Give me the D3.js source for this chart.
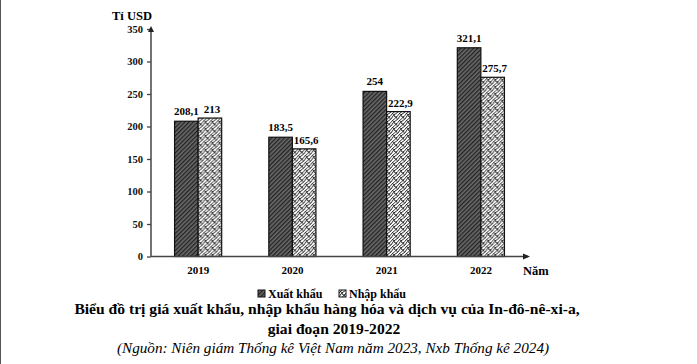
<!DOCTYPE html>
<html>
<head>
<meta charset="utf-8">
<script src="https://cdn.jsdelivr.net/npm/d3@7"></script>
<style>
  body { margin: 0; background: #fff; }
  svg text { font-family: "Liberation Serif", "Times New Roman", serif; }
</style>
</head>
<body>
<script>
//Data
var years = ["2019", "2020", "2021", "2022"];
var exportValues = [208.1, 183.5, 254, 321.1];
var importValues = [213, 165.6, 222.9, 275.7];
var exportLabels = ["208,1", "183,5", "254", "321,1"];
var importLabels = ["213", "165,6", "222,9", "275,7"];
var yTicks = [0, 50, 100, 150, 200, 250, 300, 350];
var seriesNames = ["Xuất khẩu", "Nhập khẩu"];

var w = 697, h = 364;
var x0 = 151, x1 = 528, yTop = 29, yBottom = 256.5;
var serif = "Liberation Serif";

var svg = d3.select("body").append("svg")
  .attr("width", w).attr("height", h)
  .attr("font-family", serif);

//Patterns
var defs = svg.append("defs");
var pExp = defs.append("pattern").attr("id", "pExp")
  .attr("patternUnits", "userSpaceOnUse").attr("width", 3).attr("height", 3)
  .attr("patternTransform", "rotate(45)");
pExp.append("rect").attr("width", 3).attr("height", 3).attr("fill", "#6a6a6a");
pExp.append("rect").attr("width", 1.3).attr("height", 3).attr("fill", "#222");

var pImp = defs.append("pattern").attr("id", "pImp")
  .attr("patternUnits", "userSpaceOnUse").attr("width", 7).attr("height", 7);
pImp.append("rect").attr("width", 7).attr("height", 7).attr("fill", "#fff");
pImp.append("path").attr("d", "M0,7 Q1.5,3 7,0 M0,3.5 Q0.8,1.5 3.5,0 M3.5,7 Q4.5,5 7,3.5 M1,1 Q3,2.5 4,5 M4.5,4.5 Q6,6 7,8")
  .attr("fill", "none").attr("stroke", "#222").attr("stroke-width", 1);

//Scales
var xScale = d3.scaleBand().domain(years).range([x0, x1])
  .paddingInner(0.5).paddingOuter(0.25);
var xSub = d3.scaleBand().domain(["exp", "imp"]).range([0, xScale.bandwidth()]);
var yScale = d3.scaleLinear().domain([0, 350]).range([yBottom, yTop]);

//Y axis
var yAxis = svg.append("g").attr("transform", "translate(" + x0 + ",0)")
  .call(d3.axisLeft(yScale).tickValues(yTicks).tickSize(4).tickPadding(4));
yAxis.attr("font-family", serif);
yAxis.select(".domain").remove();
yAxis.selectAll(".tick line").attr("stroke", "#444").attr("stroke-width", 1.3);
yAxis.selectAll(".tick text")
  .attr("font-weight", "bold").attr("font-size", 10.5).attr("fill", "#111");

//Bars
var groups = svg.selectAll(".grp").data(years).enter().append("g")
  .attr("transform", function(d) { return "translate(" + xScale(d) + ",0)"; });

groups.append("rect")
  .attr("x", xSub("exp")).attr("width", xSub.bandwidth())
  .attr("y", function(d, i) { return yScale(exportValues[i]); })
  .attr("height", function(d, i) { return yBottom - yScale(exportValues[i]); })
  .attr("fill", "url(#pExp)").attr("stroke", "#111").attr("stroke-width", 1.2);

groups.append("rect")
  .attr("x", xSub("imp")).attr("width", xSub.bandwidth())
  .attr("y", function(d, i) { return yScale(importValues[i]); })
  .attr("height", function(d, i) { return yBottom - yScale(importValues[i]); })
  .attr("fill", "url(#pImp)").attr("stroke", "#111").attr("stroke-width", 1.2);

//Value labels
groups.append("text")
  .attr("x", xSub("exp") + xSub.bandwidth() / 2)
  .attr("y", function(d, i) { return yScale(exportValues[i]) - 6; })
  .attr("text-anchor", "middle").attr("font-weight", "bold").attr("font-size", 11)
  .text(function(d, i) { return exportLabels[i]; });

groups.append("text")
  .attr("x", xSub("imp") + xSub.bandwidth() / 2 + 2)
  .attr("y", function(d, i) { return yScale(importValues[i]) - 5; })
  .attr("text-anchor", "middle").attr("font-weight", "bold").attr("font-size", 11)
  .text(function(d, i) { return importLabels[i]; });

//Axis lines with arrows
svg.append("line").attr("x1", x0).attr("x2", x0).attr("y1", yBottom).attr("y2", yTop)
  .attr("stroke", "#444").attr("stroke-width", 1.5);
svg.append("path").attr("d", "M" + x0 + "," + (yTop - 3) + " l-3,6 l6,0 z").attr("fill", "#222");
svg.append("line").attr("x1", x0).attr("x2", x1).attr("y1", yBottom).attr("y2", yBottom)
  .attr("stroke", "#444").attr("stroke-width", 1.5);
svg.append("path").attr("d", "M" + (x1 + 2) + "," + yBottom + " l-7,-3 l0,6 z").attr("fill", "#222");

//Year labels
svg.selectAll(".yr").data(years).enter().append("text")
  .attr("x", function(d) { return xScale(d) + xScale.bandwidth() / 2; })
  .attr("y", 274).attr("text-anchor", "middle")
  .attr("font-weight", "bold").attr("font-size", 11).text(function(d) { return d; });

svg.append("text").attr("x", 523).attr("y", 275).attr("font-weight", "bold")
  .attr("font-size", 12.5).text("Năm");
svg.append("text").attr("x", 112).attr("y", 20).attr("font-weight", "bold")
  .attr("font-size", 12.5).text("Tỉ USD");

//Legend
var legendX = [258, 339];
var legendFill = ["url(#pExp)", "url(#pImp)"];
var legend = svg.selectAll(".lg").data(seriesNames).enter().append("g")
  .attr("transform", function(d, i) { return "translate(" + legendX[i] + ",290)"; });
legend.append("rect").attr("width", 7).attr("height", 7)
  .attr("fill", function(d, i) { return legendFill[i]; })
  .attr("stroke", "#111").attr("stroke-width", 1);
legend.append("text").attr("x", 10).attr("y", 8)
  .attr("font-weight", "bold").attr("font-size", 12).text(function(d) { return d; });

//Title and source
svg.append("text").attr("x", 327).attr("y", 314).attr("text-anchor", "middle")
  .attr("font-weight", "bold").attr("font-size", 15.6)
  .text("Biểu đồ trị giá xuất khẩu, nhập khẩu hàng hóa và dịch vụ của In-đô-nê-xi-a,");
svg.append("text").attr("x", 334).attr("y", 334).attr("text-anchor", "middle")
  .attr("font-weight", "bold").attr("font-size", 15.6)
  .text("giai đoạn 2019-2022");
svg.append("text").attr("x", 333).attr("y", 353).attr("text-anchor", "middle")
  .attr("font-style", "italic").attr("font-size", 15.2)
  .text("(Nguồn: Niên giám Thống kê Việt Nam năm 2023, Nxb Thống kê 2024)");

//Left edge border
svg.append("line").attr("x1", 0.5).attr("x2", 0.5).attr("y1", 0).attr("y2", h)
  .attr("stroke", "#555").attr("stroke-width", 1);
</script>
</body>
</html>
